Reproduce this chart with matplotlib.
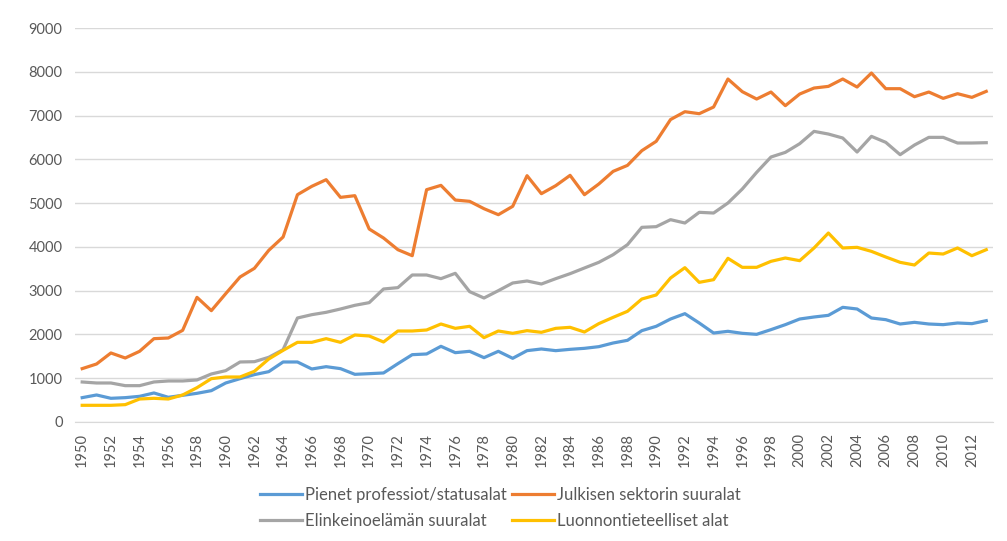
import matplotlib.pyplot as plt

years = list(range(1950, 2014))

pienet = [556, 617, 541, 556, 586, 663, 564, 609, 655, 716,
          891, 990, 1082, 1150, 1371, 1371, 1211, 1264, 1219, 1089,
          1104, 1120, 1333, 1538, 1554, 1729, 1584, 1615, 1470, 1615,
          1455, 1630, 1668, 1630, 1660, 1683, 1721, 1805, 1866, 2087,
          2186, 2353, 2475, 2262, 2033, 2072, 2026, 2003, 2110, 2224,
          2353, 2399, 2437, 2620, 2582, 2376, 2338, 2239, 2277, 2239,
          2224, 2262, 2247, 2315]

julkinen = [1219, 1325, 1577, 1462, 1615, 1904, 1919, 2094, 2848, 2544,
            2932, 3313, 3511, 3922, 4227, 5194, 5385, 5537, 5133, 5171,
            4410, 4204, 3937, 3800, 5308, 5407, 5072, 5042, 4874, 4737,
            4928, 5628, 5217, 5400, 5636, 5194, 5438, 5727, 5864, 6200,
            6413, 6911, 7090, 7045, 7197, 7837, 7548, 7380, 7540, 7228,
            7494, 7631, 7669, 7837, 7654, 7974, 7616, 7616, 7433, 7540,
            7395, 7502, 7418, 7555]

elinkeino = [914, 891, 891, 830, 830, 914, 937, 937, 960, 1097,
             1173, 1371, 1378, 1478, 1653, 2376, 2452, 2506, 2582, 2666,
             2727, 3039, 3070, 3359, 3359, 3275, 3397, 2978, 2833, 3001,
             3176, 3222, 3153, 3275, 3389, 3519, 3648, 3823, 4052, 4448,
             4463, 4623, 4547, 4791, 4775, 5004, 5324, 5704, 6055, 6161,
             6359, 6641, 6580, 6489, 6169, 6527, 6390, 6108, 6329, 6504,
             6504, 6375, 6375, 6382]

luonnon = [381, 381, 381, 396, 525, 541, 525, 617, 784, 990,
           1028, 1028, 1158, 1439, 1637, 1820, 1820, 1904, 1820, 1988,
           1965, 1828, 2079, 2079, 2102, 2239, 2140, 2186, 1927, 2079,
           2026, 2087, 2049, 2140, 2163, 2056, 2247, 2391, 2529, 2810,
           2902, 3290, 3526, 3191, 3252, 3740, 3534, 3534, 3671, 3747,
           3686, 3976, 4318, 3976, 3991, 3899, 3770, 3648, 3587, 3861,
           3838, 3976, 3800, 3937]

series = [
    ("Pienet professiot/statusalat", pienet, "#5B9BD5"),
    ("Elinkeinoelämän suuralat", elinkeino, "#A5A5A5"),
    ("Julkisen sektorin suuralat", julkinen, "#ED7D31"),
    ("Luonnontieteelliset alat", luonnon, "#FFC000"),
]

plt.rcParams['font.family'] = ['Lato', 'DejaVu Sans']

fig = plt.figure(figsize=(10.07, 5.41), dpi=100, facecolor='white')
ax = fig.add_axes([0.0745, 0.22, 0.912, 0.728])

# excel draws later series on top
zorders = {"#5B9BD5": 3, "#ED7D31": 4, "#A5A5A5": 5, "#FFC000": 6}
for name, vals, col in series:
    ax.plot(years, vals, color=col, lw=2.3, label=name,
            solid_joinstyle='round', zorder=zorders[col])

ax.set_xlim(1949.5, 2013.5)
ax.set_ylim(0, 9000)
ax.set_yticks(range(0, 9001, 1000))
ax.set_xticks(range(1950, 2013, 2))
ax.tick_params(axis='x', labelrotation=90, length=0, pad=8,
               labelsize=10.5, colors='#595959')
ax.tick_params(axis='y', length=0, pad=9, labelsize=10.5, colors='#595959')
ax.grid(axis='y', color='#D9D9D9', lw=1)
ax.set_axisbelow(True)
for s in ['top', 'right', 'left']:
    ax.spines[s].set_visible(False)
ax.spines['bottom'].set_color('#D9D9D9')

fig.legend(loc='lower center', bbox_to_anchor=(0.497, -0.005), ncol=2,
           frameon=False, fontsize=12, handlelength=2.5,
           handletextpad=0.2, columnspacing=0.3, labelspacing=0.6,
           labelcolor='#595959')

fig.savefig('out.png', dpi=100, facecolor='white')
